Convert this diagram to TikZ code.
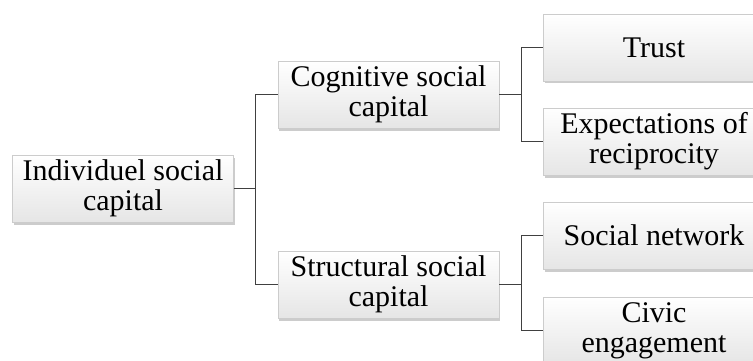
\documentclass[tikz,border=0pt]{standalone}
\usepackage{fontspec}
\setmainfont{Liberation Serif}
\usepackage{tikz}
\usetikzlibrary{positioning}
\usetikzlibrary{shadows}
\tikzset{
    social tree/.style={
            node distance=44pt,
            box/.style={rectangle, draw=gray!40, line width=0.5pt,
                    top color=white, bottom color=gray!20,
                    minimum width=221pt, minimum height=67pt, inner sep=3pt,
                    align=center, font=\fontsize{30}{30}\selectfont,
                    drop shadow={shadow xshift=1.2pt, shadow yshift=-2.5pt, opacity=0.5, fill=gray!80}},
            branch/.style={draw=black!75, line width=0.8pt}
        }
    }

\begin{document}
\begin{tikzpicture}[social tree]
    \useasboundingbox (0pt,0pt) rectangle (753pt,-361pt);
    \clip (0pt,0pt) rectangle (753pt,-361pt);
    \node[box] (ind) at (123pt,-188.5pt) {Individuel social\\capital};
    \node[box, right=of ind, yshift=94pt] (cog) {Cognitive social\\capital};
    \node[box, right=of ind, yshift=-96pt] (str) {Structural social\\capital};
    \node[box, right=of cog, yshift=47pt] (trust) {Trust};
    \node[box, right=of cog, yshift=-47pt] (expt) {Expectations of\\reciprocity};
    \node[box, right=of str, yshift=49pt] (soc) {Social network};
    \node[box, right=of str, yshift=-46pt] (civic) {Civic\\engagement};
    \draw[branch] (ind.east) -- ++(22pt,0) |- (cog.west);
    \draw[branch] (ind.east) -- ++(22pt,0) |- (str.west);
    \draw[branch] (cog.east) -- ++(22pt,0) |- (trust.west);
    \draw[branch] (cog.east) -- ++(22pt,0) |- (expt.west);
    \draw[branch] (str.east) -- ++(22pt,0) |- (soc.west);
    \draw[branch] (str.east) -- ++(22pt,0) |- (civic.west);
\end{tikzpicture}
\end{document}
